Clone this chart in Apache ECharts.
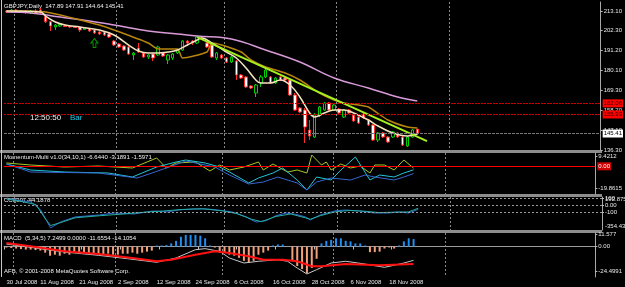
<!DOCTYPE html>
<html>
<head>
<meta charset="utf-8">
<script src="https://cdn.jsdelivr.net/npm/echarts@6/dist/echarts.min.js"></script>
<style>
  html, body { margin: 0; padding: 0; background: #000; }
  #chart { width: 625px; height: 287px; }
</style>
</head>
<body>
<div id="chart"></div>
<script>
// trading days shown on the chart (the feed has a Sunday bar on 2 Nov)
const monthDays = [
  ['Jul', [30, 31]],
  ['Aug', [1, 4, 5, 6, 7, 8, 11, 12, 13, 14, 15, 18, 19, 20, 21, 22, 25, 26, 27, 28, 29]],
  ['Sep', [1, 2, 3, 4, 5, 8, 9, 10, 11, 12, 15, 16, 17, 18, 19, 22, 23, 24, 25, 26, 29, 30]],
  ['Oct', [1, 2, 3, 6, 7, 8, 9, 10, 13, 14, 15, 16, 17, 20, 21, 22, 23, 24, 27, 28, 29, 30, 31]],
  ['Nov', [2, 3, 4, 5, 6, 7, 10, 11, 12, 13, 14, 17, 18, 19, 20, 21, 24]]
]
const tickLabels = ['30 Jul 2008', '11 Aug 2008', '21 Aug 2008', '2 Sep 2008', '12 Sep 2008', '24 Sep 2008',
  '6 Oct 2008', '16 Oct 2008', '28 Oct 2008', '6 Nov 2008', '18 Nov 2008']
const monthStarts = [2, 23, 45, 68, 91]
const totalSlots = 122

const open = [
  213.09, 212.54, 213.65, 212.54, 213.09, 211.99, 213.09, 213.65, 209.94, 207.18,
  204.25, 204.81, 204.81, 204.53, 204.25, 204.25, 202.87, 203.42, 202.60, 201.49,
  201.49, 200.39, 196.52, 194.86, 193.76, 193.20, 188.78, 192.65, 189.89, 187.68,
  189.34, 188.78, 189.89, 186.02, 187.13, 189.89, 191.55, 196.52, 196.52, 195.41,
  198.18, 195.41, 194.31, 187.13, 188.78, 187.13, 184.92, 185.47, 177.73, 176.63,
  171.65, 167.79, 173.31, 176.63, 176.63, 173.31, 176.63, 176.07, 174.97, 166.68,
  159.50, 158.39, 147.35, 143.48, 155.63, 158.39, 162.26, 158.39, 158.95, 154.53,
  158.39, 155.63, 154.53, 156.19, 152.87, 150.11, 141.82, 145.69, 143.48, 143.48,
  145.69, 143.48, 138.51, 143.48, 147.89
]
const close = [
  212.54, 213.65, 212.54, 213.09, 212.26, 213.09, 211.99, 212.26, 207.18, 204.81,
  205.36, 205.63, 204.53, 204.25, 203.98, 202.60, 203.70, 202.04, 200.94, 200.39,
  199.83, 198.73, 194.31, 193.20, 191.55, 189.34, 189.89, 190.44, 187.68, 188.78,
  187.13, 193.20, 188.23, 188.78, 189.34, 191.55, 196.52, 195.41, 195.41, 198.73,
  197.90, 193.20, 187.68, 189.89, 187.13, 184.92, 187.68, 177.73, 176.07, 171.10,
  170.55, 172.21, 176.63, 180.49, 173.31, 176.07, 174.97, 174.97, 166.68, 158.39,
  157.29, 149.00, 144.03, 155.63, 160.05, 162.26, 158.39, 161.16, 156.74, 158.39,
  156.74, 152.32, 151.21, 153.98, 150.11, 141.82, 145.69, 143.48, 140.72, 146.24,
  143.48, 139.06, 143.48, 147.35, 145.41
]
const low = [
  211.99, 211.99, 211.99, 211.99, 211.44, 211.44, 211.44, 211.44, 206.46, 202.04,
  202.60, 204.25, 204.25, 203.70, 203.70, 201.49, 202.60, 201.49, 200.39, 199.83,
  199.28, 198.18, 193.76, 192.65, 190.99, 188.78, 186.02, 189.89, 187.13, 186.57,
  185.47, 188.23, 187.68, 183.81, 186.02, 189.34, 190.99, 193.76, 194.31, 194.86,
  197.07, 192.65, 187.13, 186.02, 186.57, 184.36, 184.36, 174.97, 175.52, 170.55,
  170.00, 165.58, 171.10, 176.07, 172.76, 172.76, 174.42, 174.42, 166.13, 157.84,
  156.74, 140.16, 141.82, 142.93, 154.53, 157.84, 157.84, 157.84, 156.19, 153.98,
  156.19, 151.77, 150.66, 153.42, 149.56, 141.27, 140.72, 142.93, 140.16, 142.93,
  142.93, 138.51, 137.95, 142.93, 144.64
]
const high = [
  213.65, 214.20, 214.20, 213.65, 213.65, 213.65, 214.20, 214.75, 210.88, 207.57,
  205.91, 205.91, 205.36, 204.81, 204.81, 204.53, 204.25, 203.70, 203.15, 202.04,
  202.04, 200.94, 197.07, 195.41, 194.31, 193.76, 190.44, 195.41, 190.44, 189.34,
  189.89, 193.92, 190.44, 189.34, 189.89, 192.10, 197.07, 197.07, 197.07, 199.28,
  198.73, 195.97, 194.86, 190.44, 189.34, 187.68, 188.23, 186.02, 178.29, 177.18,
  172.21, 172.76, 177.73, 181.60, 177.18, 176.63, 177.18, 176.63, 175.52, 167.79,
  160.05, 159.50, 152.87, 156.74, 160.60, 162.82, 162.82, 161.71, 159.50, 158.95,
  158.95, 156.19, 155.08, 156.74, 153.42, 150.66, 146.24, 146.24, 144.03, 146.79,
  146.24, 144.03, 144.03, 147.90, 147.91
]

// moving averages and trend line, [bar index, price]
const maSlow = [[0, 212.54], [5, 211.99], [11, 209.78], [17, 207.57], [22, 205.36], [29, 202.04], [35, 200.39],
  [39, 199.28], [46, 197.62], [53, 191.55], [60, 184.92], [67, 176.07], [74, 170.55], [80, 165.58], [84, 163.37]]
const maMid = [[0, 213.09], [8, 212.54], [19, 205.36], [22, 202.60], [29, 195.41], [31, 192.10], [35, 192.10],
  [36, 187.13], [41, 190.44], [42, 195.41], [44, 194.31], [48, 190.44], [50, 186.02], [53, 182.15], [57, 178.84],
  [60, 174.97], [64, 167.79], [67, 163.92], [69, 162.26], [72, 161.16], [74, 160.05], [78, 152.87], [82, 148.96], [84, 148.45]]
const maFast = [[0, 213.09], [7, 212.54], [8, 210.33], [10, 207.02], [12, 205.36], [15, 204.25], [19, 202.60],
  [22, 199.83], [25, 194.31], [27, 190.99], [29, 189.89], [31, 189.89], [33, 190.44], [35, 191.55], [37, 194.31],
  [39, 197.07], [40, 198.18], [42, 195.41], [45, 190.44], [47, 187.13], [49, 181.60], [51, 174.97], [52, 173.31],
  [54, 173.31], [56, 174.97], [58, 172.21], [60, 165.58], [62, 156.74], [63, 154.53], [65, 156.74], [67, 158.39],
  [69, 158.39], [71, 156.74], [74, 152.87], [76, 149.56], [79, 145.69], [82, 144.03], [84, 145.14]]
const trendLine = [[39, 198.7], [86, 141.2]]
const arrowUp = [[18, 195.4]]
const levels = [162.06, 155.93]
const lastPrice = 145.41
const priceTicks = [213.10, 202.30, 191.20, 180.10, 169.30, 158.20, 147.10, 136.30]

// Momentum-Multi
const momBlue = [[0, 2.1], [5, -5.22], [19, -6.14], [27, -10.71], [33, -1.56], [37, 4.85], [43, -0.65], [46, -7.97],
  [50, -16.2], [53, -14.37], [56, -9.8], [60, -15.29], [62, -21.69], [64, -14.37], [67, -10.71], [71, -12.54],
  [74, -7.97], [76, -9.8], [80, -12.54], [82, -9.8], [84, -6.64]]
const momCyan = [[0, 2.1], [5, -3.39], [12, -5.22], [21, -6.14], [26, -9.8], [31, -0.65], [35, 3.93], [37, 5.76],
  [41, 3.02], [44, -0.65], [46, -5.22], [50, -15.29], [52, -10.71], [55, -6.14], [57, -1.56], [60, -12.54],
  [62, -21.69], [64, -9.8], [67, -12.54], [69, -3.39], [72, 8.5], [75, -12.54], [77, -7.97], [80, -9.8], [82, -6.14], [84, -3.19]]
const momOlive = [[0, 3.02], [5, 1.19], [12, -0.65], [19, 0.27], [26, -1.56], [31, 7.59], [33, -1.56], [35, 3.02],
  [39, 3.93], [42, -4.3], [44, 1.19], [46, -3.39], [49, -0.65], [52, 3.93], [53, -3.39], [55, 2.1], [58, -5.22],
  [60, -3.39], [62, -6.14], [63, 10.34], [65, 1.19], [66, 3.93], [67, -3.39], [69, 2.1], [71, -1.56], [73, 0.27],
  [75, -6.14], [76, 1.19], [78, 1.19], [80, -3.39], [82, 5.76], [84, -1.6]]
const momTicks = [9.4212, -19.8615]

// CCI(30)
const cciBlue = [[0, 104], [2, 75], [5, 46], [7, -68], [9, -325], [11, -240], [14, -168], [19, -139], [22, -111],
  [26, -125], [30, -82], [33, -96], [35, -68], [38, -54], [41, -54], [43, -68], [46, -96], [49, -168], [50, -211],
  [51, -240], [53, -220], [55, -150], [57, -111], [59, -130], [61, -168], [62, -211], [64, -139], [67, -82],
  [69, -68], [72, -82], [75, -111], [78, -111], [80, -96], [82, -111], [84, -60]]
const cciTeal = [[0, 90], [3, 55], [6, 10], [8, -200], [9, -290], [11, -250], [14, -180], [19, -150], [24, -125],
  [28, -100], [32, -82], [36, -60], [40, -50], [44, -80], [47, -120], [50, -200], [52, -235], [55, -160],
  [58, -125], [61, -180], [62, -200], [64, -150], [67, -95], [70, -75], [73, -85], [76, -105], [79, -100],
  [82, -95], [84, -44]]
const cciLevels = [100, 0, -100]

// MACD (5,34,5)
const macdHist = [
  -1, -1.5, -2, -2.5, -3, -3, -3.5, -4, -6, -9,
  -8, -9, -7, -8, -6, -7, -6, -7, -8, -7,
  -8, -7, -8, -8, -7, -7, -6, -7, -6, -5,
  -4, 1, 1, 1.5, 3, 5.5, 9.5, 11.3, 11.3, 11.3,
  10.5, 8, 1, -1, -6, -6, -8, -9, -11, -14,
  -16, -14, -8, -6, -4, 1, 2, 2, 0, -14,
  -19, -22, -26, -21, -12, 3, 5.5, 6.5, 8, 8,
  5.5, 5, 3, 3, 1, -5.5, -5.5, -5, -2, -1,
  -2, 1, 5, 8, 7.25
]
const macdMain = [[0, 2.4], [12, -5.4], [19, -8.6], [25, -11.9], [31, -15.4], [35, -11.2], [39, -3.1], [41, -2.1],
  [44, -4.7], [46, -11.2], [49, -16.1], [52, -14.4], [56, -12.9], [58, -14.4], [60, -21.0], [62, -26.8],
  [64, -22.6], [67, -16.1], [70, -14.4], [74, -17.1], [78, -20.3], [80, -18.3], [82, -16.1], [84, -13.5]]
const macdSignal = [[0, 3.4], [5, 0.2], [12, -4.7], [19, -7.3], [26, -11.2], [31, -14.4], [34, -12.9], [39, -8.0],
  [43, -4.7], [46, -6.3], [50, -9.6], [53, -12.9], [57, -12.9], [60, -14.4], [63, -19.3], [65, -19.3],
  [70, -17.1], [77, -18.3], [84, -17.1]]
const macdTicks = [11.577, 0, -24.4991]

const dates = []
monthDays.forEach(([m, days]) => days.forEach(d => dates.push(d + ' ' + m + ' 2008')))
const axisDates = dates.concat(Array(totalSlots - dates.length).fill(''))

const font = 'Liberation Sans'
const labelText = { color: '#e8e8e8', fontSize: 6, fontFamily: font }

const chart = echarts.init(document.getElementById('chart'))

// MetaTrader writes each date just left of its bar, so the label sits one slot earlier
const xAxes = [0, 1, 2, 3].map(g => ({
  type: 'category',
  gridIndex: g,
  data: axisDates,
  boundaryGap: true,
  axisLine: { show: g === 3, lineStyle: { color: '#9a9a9a' } },
  axisTick: {
    show: g === 3, length: 3, lineStyle: { color: '#bbbbbb' },
    interval: (i) => tickLabels.includes(axisDates[i])
  },
  axisLabel: {
    show: g === 3, ...labelText, align: 'left', margin: 2,
    interval: (i) => i === 0 || tickLabels.includes(axisDates[i + 1]),
    formatter: (v, i) => (i === 0 ? v : axisDates[i + 1])
  },
  splitLine: {
    show: true, interval: (i) => monthStarts.includes(i),
    lineStyle: { color: '#8a8a8a', type: [2, 2], width: 1 }
  }
}))

function rightAxis(g, min, max, ticks, fmt) {
  return {
    type: 'value', gridIndex: g, position: 'right', min, max,
    axisLine: { show: true, lineStyle: { color: '#a8a8a8' } },
    axisTick: { show: true, length: 2, customValues: ticks, lineStyle: { color: '#bbbbbb' } },
    axisLabel: { ...labelText, margin: 3, customValues: ticks, formatter: fmt },
    splitLine: { show: false }
  }
}

function line(x, data, color, width, smooth) {
  return {
    type: 'line', xAxisIndex: x, yAxisIndex: x, data, symbol: 'none', smooth: smooth || false,
    lineStyle: { color, width }, silent: true, z: 3
  }
}

chart.setOption({
  backgroundColor: '#000',
  animation: false,
  grid: [
    { left: 4, right: 23, top: 2, height: 148 },
    { left: 4, right: 23, top: 153, height: 41 },
    { left: 4, right: 23, top: 197, height: 33 },
    { left: 4, right: 23, top: 233, height: 44 }
  ],
  xAxis: xAxes,
  yAxis: [
    rightAxis(0, 136.3, 218.07, priceTicks, v => v.toFixed(2)),
    rightAxis(1, -25.35, 12.17, momTicks, v => String(v)),
    rightAxis(2, -354.44, 118, cciLevels, v => (v === 0 ? '0.00' : String(v))),
    rightAxis(3, -29.74, 13.16, macdTicks, v => (v === 0 ? '0.00' : String(v)))
  ],
  series: [
    {
      type: 'candlestick', xAxisIndex: 0, yAxisIndex: 0, barWidth: 3,
      data: open.map((o, i) => [o, close[i], low[i], high[i]]),
      itemStyle: { color: '#000', color0: '#ffffff', borderColor: '#00d000', borderColor0: '#ff2a2a', borderWidth: 1 },
      markLine: {
        silent: true, symbol: 'none',
        data: [
          ...levels.map(v => ({
            yAxis: v, lineStyle: { color: '#d00000', type: [2, 1], width: 1 },
            label: { show: true, position: 'end', distance: 2, formatter: v.toFixed(2), color: '#2a0000',
              backgroundColor: '#ff0000', padding: [1, 1], fontSize: 6, fontFamily: font }
          })),
          {
            yAxis: lastPrice, lineStyle: { color: '#777777', type: [3, 1], width: 1 },
            label: { show: true, position: 'end', distance: 2, formatter: lastPrice.toFixed(2), color: '#000',
              backgroundColor: '#ffffff', padding: [1, 1], fontSize: 6, fontFamily: font }
          }
        ]
      }
    },
    line(0, maSlow, '#d89ad8', 1.5, 0.4),
    line(0, maMid, '#b8860b', 1.5, 0.2),
    line(0, maFast, '#f5e3c0', 1.5, 0.4),
    line(0, trendLine, '#a4f020', 2),
    {
      type: 'scatter', xAxisIndex: 0, yAxisIndex: 0, data: arrowUp, silent: true,
      symbol: 'path://M5,0 L10,5 L7,5 L7,10 L3,10 L3,5 L0,5 Z', symbolSize: [7, 9],
      itemStyle: { color: 'rgba(0,0,0,0)', borderColor: '#00c000', borderWidth: 1 }
    },
    {
      ...line(1, momOlive, '#a5c52a', 1),
      markLine: {
        silent: true, symbol: 'none',
        data: [{
          yAxis: 0, lineStyle: { color: '#ff0000', type: 'solid', width: 1 },
          label: { show: true, position: 'end', distance: 2, formatter: '0.00', color: '#fff',
            backgroundColor: '#d00000', padding: [1, 1], fontSize: 6, fontFamily: font }
        }]
      }
    },
    line(1, momCyan, '#22c5d5', 1),
    line(1, momBlue, '#3468d0', 1),
    {
      ...line(2, cciBlue, '#3468d0', 1),
      markLine: {
        silent: true, symbol: 'none', label: { show: false },
        lineStyle: { color: '#9a9a9a', type: [2, 2], width: 1 },
        data: cciLevels.map(v => ({ yAxis: v }))
      }
    },
    line(2, cciTeal, '#23b0a0', 1),
    {
      type: 'bar', xAxisIndex: 3, yAxisIndex: 3, barWidth: 2, silent: true,
      data: macdHist.map(v => ({ value: v, itemStyle: { color: v >= 0 ? '#1e8ef0' : '#f4a07a' } }))
    },
    line(3, macdMain, '#c8c8c8', 1),
    line(3, macdSignal, '#ff1010', 2)
  ],
  graphic: [
    { type: 'rect', shape: { x: 0, y: 150, width: 602, height: 3 }, style: { fill: '#8c8c8c' } },
    { type: 'rect', shape: { x: 0, y: 194, width: 602, height: 3 }, style: { fill: '#8c8c8c' } },
    { type: 'rect', shape: { x: 0, y: 230, width: 602, height: 3 }, style: { fill: '#8c8c8c' } },
    { type: 'line', shape: { x1: 1.5, y1: 0, x2: 1.5, y2: 277 }, style: { stroke: '#c8c8c8', lineWidth: 1 } },
    { type: 'text', x: 4, y: 6, style: { text: 'GBPJPY,Daily  147.89 147.91 144.64 145.41', fill: '#f0f0f0', font: '6px ' + font, textVerticalAlign: 'middle' } },
    { type: 'text', x: 30, y: 117.5, style: { text: '12:50:50', fill: '#f0f0f0', font: '8px ' + font, textVerticalAlign: 'middle' } },
    { type: 'text', x: 70, y: 117.5, style: { text: 'Bar', fill: '#1fc8e8', font: '8px ' + font, textVerticalAlign: 'middle' } },
    { type: 'text', x: 4, y: 157.5, style: { text: 'Momentum-Multi v1.0(34,10,1) -6.6440 -3.1891 -1.5971', fill: '#f0f0f0', font: '6px ' + font, textVerticalAlign: 'middle' } },
    { type: 'text', x: 4, y: 200, style: { text: 'CCI(30) -44.1878', fill: '#f0f0f0', font: '6px ' + font, textVerticalAlign: 'middle' } },
    { type: 'text', x: 605, y: 199, style: { text: '192.8759', fill: '#e8e8e8', font: '6px ' + font, textVerticalAlign: 'middle' } },
    { type: 'text', x: 605, y: 226, style: { text: '-354.438', fill: '#e8e8e8', font: '6px ' + font, textVerticalAlign: 'middle' } },
    { type: 'text', x: 4, y: 238.5, style: { text: 'MACD  (5,34,5) 7.2499 0.0000 -11.6554 -14.1054', fill: '#f0f0f0', font: '6px ' + font, textVerticalAlign: 'middle' } },
    { type: 'text', x: 4, y: 271.5, style: { text: 'AFB, © 2001-2008 MetaQuotes Software Corp.', fill: '#f0f0f0', font: '6px ' + font, textVerticalAlign: 'middle' } }
  ]
})
</script>
</body>
</html>
